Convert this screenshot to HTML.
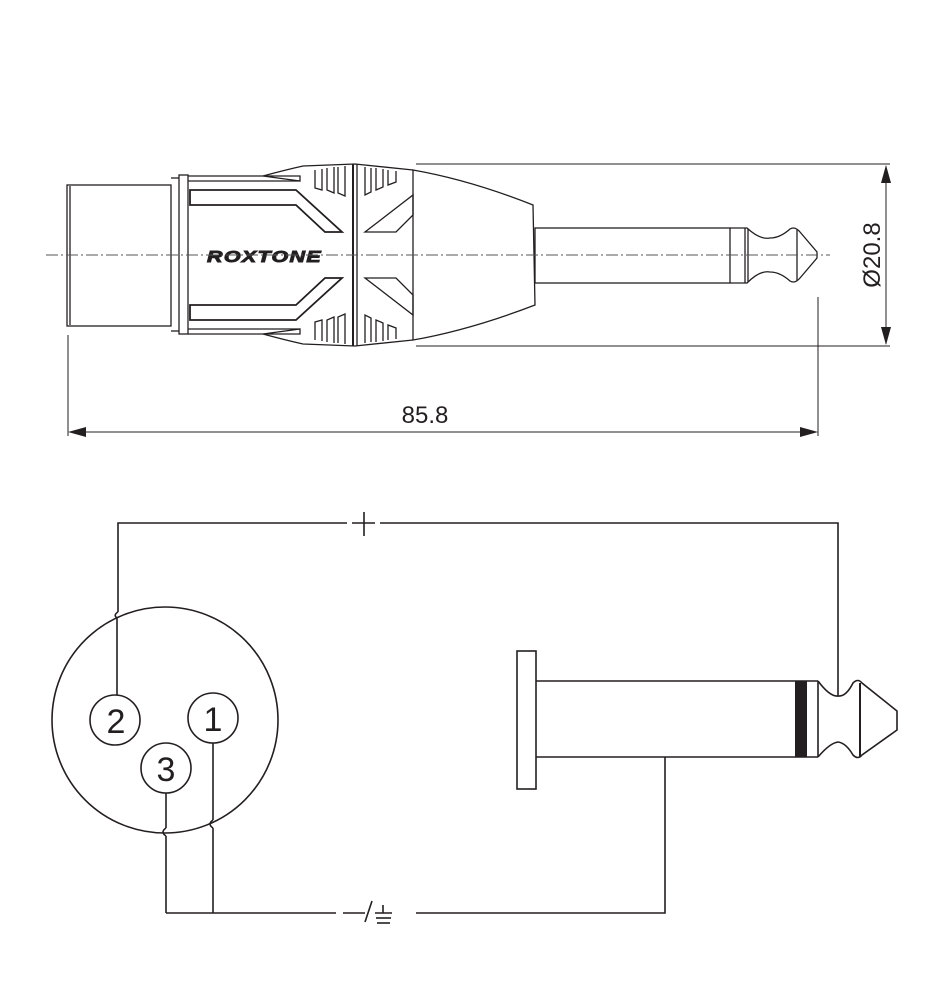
<!DOCTYPE html>
<html><head><meta charset="utf-8"><style>
html,body{margin:0;padding:0;background:#fff;}
svg{display:block;}
text{font-family:"Liberation Sans","DejaVu Sans",sans-serif;fill:#231f20;}
</style></head><body>
<svg width="939" height="1000" viewBox="0 0 939 1000" xmlns="http://www.w3.org/2000/svg">
<g fill="none" stroke="#231f20" stroke-width="1.3">
<!-- XLR front tube -->
<rect x="67" y="185" width="104" height="141"/>
<line x1="70" y1="186" x2="70" y2="325"/>
<rect x="179" y="175" width="9" height="159"/>
<line x1="171" y1="178" x2="179" y2="178"/><line x1="171" y1="331" x2="179" y2="331"/>
<!-- body outline -->
<path d="M188 176 L263 176 Q285 170 303 166 L355 164 L413 170 M188 334 L263 334 Q285 340 303 344 L355 346 L413 340"/>
<line x1="188" y1="181" x2="300" y2="181"/><line x1="188" y1="329" x2="300" y2="329"/>
<path d="M263 176 L300 176 L300 181 Z"/><path d="M263 334 L300 334 L300 329 Z"/>
<!-- divider -->
<line x1="353" y1="164" x2="353" y2="346" stroke-width="2"/>
<line x1="357" y1="164" x2="357" y2="346"/>
<!-- slots -->
<path d="M190 190 L296 190 L342 232 L325 232 L296 205 L190 205 Z" stroke-width="1.8"/>
<path d="M190 320 L296 320 L342 278 L325 278 L296 305 L190 305 Z" stroke-width="1.8"/>
<path d="M365 232 L396 232 L413 215 L413 195 Z"/>
<path d="M365 278 L396 278 L413 295 L413 315 Z"/>
<!-- grooves -->
<path d="M315 170 L315 188 L322 190 L322 169 M327 168 L327 190 L334 193 L334 167 M338 167 L338 193 L345 196 L345 166"/>
<path d="M365 167 L365 195 L371 192 L371 168 M376 168 L376 190 L383 187 L383 169 M388 170 L388 185 L396 182 L396 171"/>
<path d="M315 340 L315 322 L322 320 L322 341 M327 342 L327 320 L334 317 L334 343 M338 343 L338 317 L345 314 L345 344"/>
<path d="M365 343 L365 315 L371 318 L371 342 M376 342 L376 320 L383 323 L383 341 M388 340 L388 325 L396 328 L396 339"/>
<!-- nose -->
<path d="M413 170 Q470 180 533 205 L535 305 Q470 330 413 340 Z"/>
<!-- pin -->
<rect x="535" y="228" width="195" height="55"/>
<path d="M730 228 L747 228 Q760 240 770 238 Q780 238 790 229 Q795 226 800 232 L817 252 L817 258 L800 278 Q795 284 790 281 Q780 272 770 272 Q760 270 747 283 L730 283"/>
<line x1="745" y1="228" x2="745" y2="283"/><line x1="748" y1="229" x2="748" y2="282"/>
<line x1="797" y1="229" x2="797" y2="281"/>
</g>
<text x="207" y="262" font-size="16" font-weight="bold" font-style="italic" fill="#fff" stroke="#231f20" stroke-width="0.9" letter-spacing="1" textLength="115" lengthAdjust="spacingAndGlyphs">ROXTONE</text>
<!-- centerline -->
<line x1="46" y1="255" x2="830" y2="255" stroke="#555" stroke-width="1" stroke-dasharray="12,3,2,3"/>
<!-- dims -->
<g stroke="#231f20" stroke-width="1" fill="none">
<line x1="416" y1="164" x2="890" y2="164"/>
<line x1="416" y1="346" x2="890" y2="346"/>
<line x1="886" y1="166" x2="886" y2="344"/>
<line x1="68" y1="335" x2="68" y2="436"/>
<line x1="818" y1="297" x2="818" y2="436"/>
<line x1="70" y1="432" x2="816" y2="432"/>
</g>
<g fill="#231f20">
<path d="M886 165 L881 183 L891 183 Z"/><path d="M886 345 L881 327 L891 327 Z"/>
<path d="M68 432 L86 427 L86 437 Z"/><path d="M818 432 L800 427 L800 437 Z"/>
</g>
<text x="425" y="423" font-size="24" text-anchor="middle">85.8</text>
<text transform="translate(880,255) rotate(-90)" font-size="24" text-anchor="middle">Ø20.8</text>
<!-- schematic -->
<g fill="none" stroke="#231f20" stroke-width="1.6">
<circle cx="165" cy="720" r="113"/>
<circle cx="115" cy="720" r="25"/><circle cx="213" cy="718" r="25"/><circle cx="166" cy="768" r="25"/>
<path d="M118 612 L118 523 L347 523 M380 523 L838 523 L838 696"/>
<line x1="117" y1="618" x2="117" y2="695"/>
<path d="M118 612 Q113 615 117 618"/>
<line x1="166" y1="793" x2="166" y2="828"/>
<path d="M166 828 Q160 832 166 836"/>
<line x1="166" y1="836" x2="166" y2="913"/>
<line x1="213" y1="743" x2="213" y2="820"/>
<path d="M213 820 Q207 824 213 828"/>
<line x1="213" y1="828" x2="213" y2="913"/>
<path d="M166 913 L336 913 M416 913 L665 913 L665 757"/>
<line x1="352" y1="523" x2="375" y2="523"/><line x1="364" y1="512" x2="364" y2="536"/>
<line x1="343" y1="913" x2="365" y2="913"/><line x1="365" y1="922" x2="372" y2="901"/>
<line x1="383" y1="905" x2="383" y2="913"/><line x1="375" y1="913" x2="392" y2="913"/>
<line x1="376" y1="918" x2="391" y2="918"/><line x1="377" y1="923" x2="390" y2="923"/>
<!-- jack -->
<rect x="517" y="651" width="19" height="138"/>
<path d="M536 681 L818 681 M536 757 L818 757"/>
<line x1="818" y1="681" x2="818" y2="757"/>
<path d="M818 681 Q830 697 838 696 Q846 697 853 683 Q858 678 862 683 L897 711 L897 730 L862 755 Q858 760 853 755 Q846 743 838 742 Q830 743 818 757"/>
<line x1="860" y1="683" x2="860" y2="757" stroke-width="2"/>
</g>
<rect x="795" y="681" width="12" height="76" fill="#231f20"/>
<text x="116" y="733" font-size="34" text-anchor="middle">2</text>
<text x="213" y="731" font-size="34" text-anchor="middle">1</text>
<text x="166" y="781" font-size="34" text-anchor="middle">3</text>
</svg>
</body></html>
